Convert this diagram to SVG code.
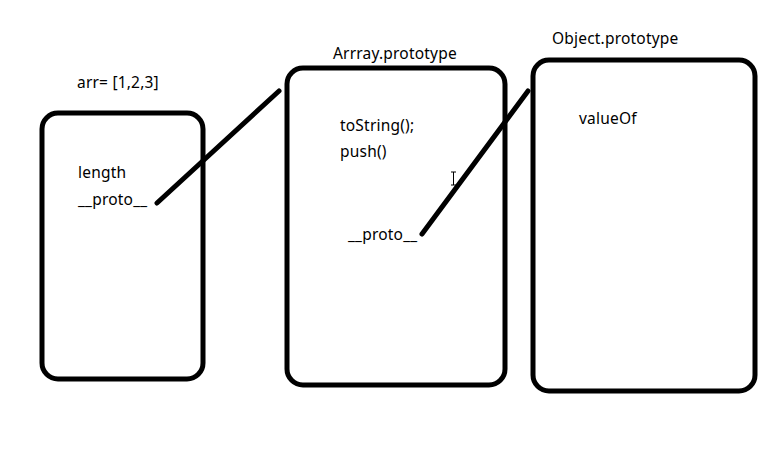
<svg xmlns="http://www.w3.org/2000/svg" width="771" height="450" viewBox="0 0 771 450">
<style>
.box{fill:none;stroke:#000;stroke-width:5}
.t{font-family:"Noto Sans","Liberation Sans",sans-serif;font-size:15.5px;letter-spacing:0.2px;fill:#000}
.c{stroke:#000;stroke-width:5;stroke-linecap:round;fill:none}
</style>
<rect width="771" height="450" fill="#fff"/>
<g id="arr">
<rect class="box" x="42" y="113" width="161" height="266" rx="16"/>
<text class="t" x="77" y="88">arr= [1,2,3]</text>
<text class="t" x="78" y="178">length</text>
<text class="t" x="78" y="205">__proto__</text>
</g>
<g id="arrayproto">
<rect class="box" x="287" y="68" width="218" height="317" rx="16"/>
<text class="t" x="333" y="59">Arrray.prototype</text>
<text class="t" x="340" y="131">toString();</text>
<text class="t" x="340" y="157">push()</text>
<text class="t" x="348" y="240">__proto__</text>
</g>
<g id="objectproto">
<rect class="box" x="533" y="60" width="222" height="331" rx="16"/>
<text class="t" x="552" y="44">Object.prototype</text>
<text class="t" x="579" y="124">valueOf</text>
</g>
<g id="connectors">
<line class="c" x1="157" y1="203" x2="279" y2="91"/>
<line class="c" x1="422" y1="234" x2="528" y2="91"/>
</g>
<path d="M451 172h5M453.5 172v13M451 185h5" stroke="#000" stroke-width="1" fill="none"/>
</svg>
